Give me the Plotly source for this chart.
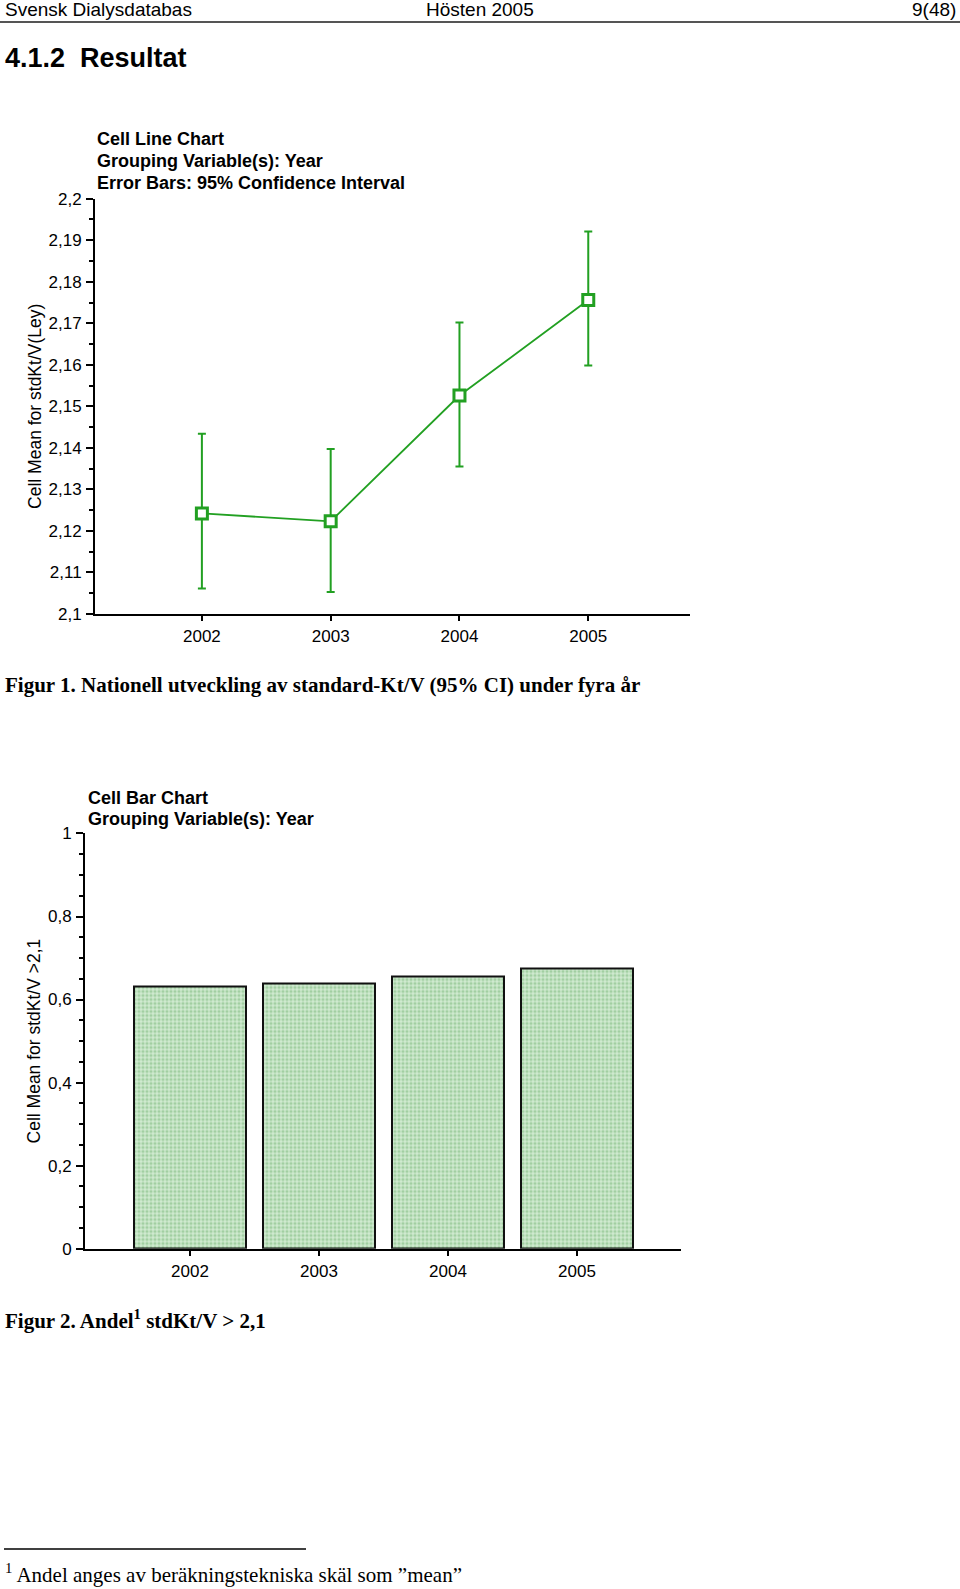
import plotly.graph_objects as go

W, H = 960, 1589

# ---- data ----
years = [2002, 2003, 2004, 2005]
mean_ktv = [2.1242, 2.1223, 2.1526, 2.1756]
ci_upper = [2.1434, 2.1397, 2.1702, 2.1921]
ci_lower = [2.1061, 2.1053, 2.1355, 2.1598]
share_above = [0.631, 0.639, 0.656, 0.675]

line_ticks = [2.1, 2.11, 2.12, 2.13, 2.14, 2.15, 2.16, 2.17, 2.18, 2.19, 2.2]
line_ticktext = ["2,1", "2,11", "2,12", "2,13", "2,14", "2,15", "2,16", "2,17", "2,18", "2,19", "2,2"]
bar_ticks = [0, 0.2, 0.4, 0.6, 0.8, 1]
bar_ticktext = ["0", "0,2", "0,4", "0,6", "0,8", "1"]
year_labels = ["2002", "2003", "2004", "2005"]

GREEN = "#22a022"
SANS = "Liberation Sans, Arial, Helvetica, sans-serif"
SERIF = "Liberation Serif, Times New Roman, serif"


def px_x(p):
    return p / W


def px_y(p):
    # compensate for the page offset/scale observed in the rendered screenshot
    q = (p - 7.9) / 0.990
    return 1 - q / H


err_plus = [u - m for u, m in zip(ci_upper, mean_ktv)]
err_minus = [m - l for m, l in zip(mean_ktv, ci_lower)]

fig = go.Figure()

fig.add_trace(go.Scatter(
    x=years, y=mean_ktv, mode="lines+markers",
    line=dict(color=GREEN, width=1.8),
    marker=dict(symbol="square", size=11, color="white", line=dict(color=GREEN, width=3)),
    error_y=dict(type="data", symmetric=False, array=err_plus, arrayminus=err_minus,
                 color=GREEN, thickness=2, width=4),
    xaxis="x", yaxis="y", showlegend=False,
))

fig.add_trace(go.Bar(
    x=years, y=share_above, width=0.87,
    marker=dict(color="#bfe0bf", line=dict(color="#111111", width=2),
                pattern=dict(shape=".", fgcolor="#74b474", bgcolor="#d0ead0", size=4, solidity=0.5)),
    xaxis="x2", yaxis="y2", showlegend=False,
))

axis_common = dict(showgrid=False, zeroline=False, showline=True, linecolor="black", linewidth=2,
                   ticks="outside", tickcolor="black", tickwidth=1.5,
                   tickfont=dict(family=SANS, size=17, color="black"))

fig.update_layout(
    width=W, height=H, margin=dict(l=0, r=0, t=0, b=0),
    paper_bgcolor="white", plot_bgcolor="white",
    bargap=0,
    xaxis=dict(domain=[px_x(95), px_x(690)], anchor="y", range=[2001.17, 2005.79],
               tickvals=years, ticktext=year_labels, ticklen=5, ticklabelstandoff=1, **axis_common),
    yaxis=dict(domain=[px_y(614), px_y(198)], anchor="x", range=[2.1, 2.2],
               tickvals=line_ticks, ticktext=line_ticktext, ticklen=7, ticklabelstandoff=1,
               minor=dict(ticks="outside", ticklen=4, dtick=0.005, tickcolor="black", tickwidth=1.5),
               title=dict(text="Cell Mean for stdKt/V(Ley)", standoff=2,
                          font=dict(family=SANS, size=17.5, color="black")),
               automargin=True,
               **axis_common),
    xaxis2=dict(domain=[px_x(85), px_x(681)], anchor="y2", range=[2001.186, 2005.806],
                tickvals=years, ticktext=year_labels, ticklen=5, ticklabelstandoff=1, **axis_common),
    yaxis2=dict(domain=[px_y(1250), px_y(834)], anchor="x2", range=[0, 1],
                tickvals=bar_ticks, ticktext=bar_ticktext, ticklen=7, ticklabelstandoff=1,
                minor=dict(ticks="outside", ticklen=4, dtick=0.05, tickcolor="black", tickwidth=1.5),
                title=dict(text="Cell Mean for stdKt/V >2,1", standoff=3,
                           font=dict(family=SANS, size=17.5, color="black")),
                automargin=True,
                **axis_common),
)

anns = []


def note(text, x, y, size, family=SANS, xanchor="left", bold=False, color="black"):
    t = f"<b>{text}</b>" if bold else text
    anns.append(dict(text=t, x=px_x(x), y=px_y(y), xref="paper", yref="paper",
                     xanchor=xanchor, yanchor="middle", showarrow=False,
                     font=dict(family=family, size=size, color=color)))


# page header
note("Svensk Dialysdatabas", 3, 8, 19)
note("Hösten 2005", 480, 8, 19, xanchor="center")
note("9(48)", 958, 8, 19, xanchor="right")
note("4.1.2  Resultat", 3, 57, 27, bold=True)

# line chart heading
note("Cell Line Chart", 95, 138, 18, bold=True)
note("Grouping Variable(s): Year", 95, 160, 18, bold=True)
note("Error Bars: 95% Confidence Interval", 95, 182, 18, bold=True)

# captions
note("Figur 1. Nationell utveckling av standard-Kt/V (95% CI) under fyra år", 3, 685, 21,
     family=SERIF, bold=True)

# bar chart heading
note("Cell Bar Chart", 86, 798, 18, bold=True)
note("Grouping Variable(s): Year", 86, 820, 18, bold=True)

note("Figur 2. Andel<sup>1</sup> stdKt/V > 2,1", 3, 1321, 21, family=SERIF, bold=True)
note("<sup>1</sup> Andel anges av beräkningstekniska skäl som ”mean”", 3, 1576, 21, family=SERIF)

fig.update_layout(annotations=anns)

fig.add_shape(type="line", xref="paper", yref="paper", x0=0, x1=1, y0=px_y(21), y1=px_y(21),
              line=dict(color="#555555", width=2))
fig.add_shape(type="line", xref="paper", yref="paper", x0=px_x(4), x1=px_x(306), y0=px_y(1551), y1=px_y(1551),
              line=dict(color="black", width=1.5))

fig.write_html("out.html")
